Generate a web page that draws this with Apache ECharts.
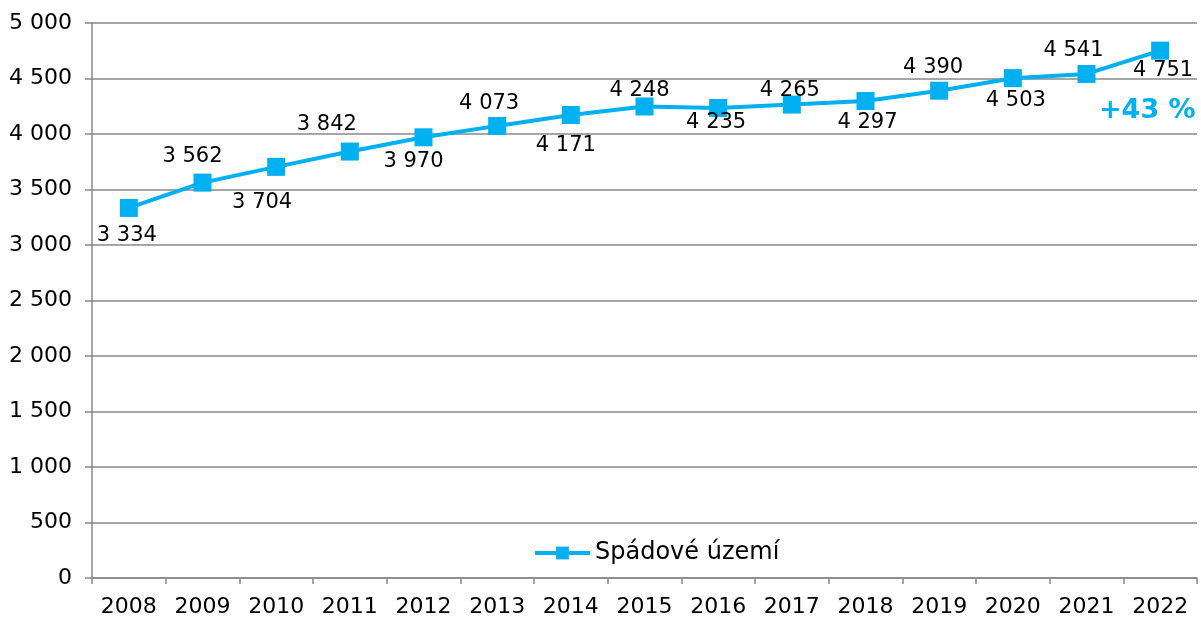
<!DOCTYPE html>
<html>
<head>
<meta charset="utf-8">
<script src="https://cdn.jsdelivr.net/npm/echarts@6/dist/echarts.min.js"></script>
<style>
  html, body { margin: 0; padding: 0; background: #fff; }
  #chart { width: 1201px; height: 618px; }
</style>
</head>
<body>
<div id="chart"></div>
<script>
const years = ['2008', '2009', '2010', '2011', '2012', '2013', '2014', '2015', '2016', '2017', '2018', '2019', '2020', '2021', '2022']
const values = [3334, 3562, 3704, 3842, 3970, 4073, 4171, 4248, 4235, 4265, 4297, 4390, 4503, 4541, 4751]
const seriesName = 'Spádové území'
const growthNote = '+43 %'

// label centre relative to marker centre (px)
const labelShift = [
  [-2, 28], [-10, -26], [-14, 36], [-23, -27], [-10, 24], [-8, -22], [-5, 31], [-5, -16],
  [-2, 15], [-2, -14], [2, 22], [-6, -23], [3, 22], [-13, -23], [3, 20]
]

const blue = '#00B0F0'
const grey = '#888888'
const font = '"DejaVu Sans", Verdana, sans-serif'

const fmt = v => String(v).replace(/\B(?=(\d{3})+(?!\d))/g, ' ')

const chart = echarts.init(document.getElementById('chart'), null, { renderer: 'canvas' })

chart.setOption({
  animation: false,
  textStyle: { fontFamily: font },
  grid: { left: 92, right: 4, top: 23, bottom: 40 },
  legend: {
    left: 528,
    top: 536,
    itemWidth: 55,
    itemHeight: 16,
    itemGap: 10,
    lineStyle: { width: 4 },
    textStyle: { fontSize: 24, color: '#000', fontFamily: font },
    data: [seriesName]
  },
  xAxis: {
    type: 'category',
    data: years,
    boundaryGap: true,
    axisLine: { lineStyle: { color: grey, width: 1.5 } },
    axisTick: { show: true, alignWithLabel: false, length: 6, lineStyle: { color: grey, width: 1.5 } },
    axisLabel: { color: '#000', fontSize: 22, margin: 18, fontFamily: font, interval: 0 }
  },
  yAxis: {
    type: 'value',
    min: 0,
    max: 5000,
    interval: 500,
    axisLine: { show: true, lineStyle: { color: grey, width: 1.5 } },
    axisTick: { show: true, length: 7, lineStyle: { color: grey, width: 1.5 } },
    splitLine: { lineStyle: { color: grey, width: 1.5 } },
    axisLabel: { color: '#000', fontSize: 22, margin: 20, fontFamily: font, formatter: fmt }
  },
  graphic: [{
    type: 'text',
    left: 1099,
    top: 97,
    style: {
      text: growthNote,
      fill: blue,
      font: 'bold 27px ' + font
    }
  }],
  series: [{
    name: seriesName,
    type: 'line',
    data: values.map((v, i) => ({
      value: v,
      label: { offset: labelShift[i] }
    })),
    symbol: 'rect',
    symbolSize: 18,
    lineStyle: { color: blue, width: 4 },
    itemStyle: { color: blue },
    label: {
      show: true,
      position: 'inside',
      align: 'center',
      verticalAlign: 'middle',
      color: '#000',
      fontSize: 21,
      fontFamily: font,
      formatter: p => fmt(p.value)
    }
  }]
})
</script>
</body>
</html>
